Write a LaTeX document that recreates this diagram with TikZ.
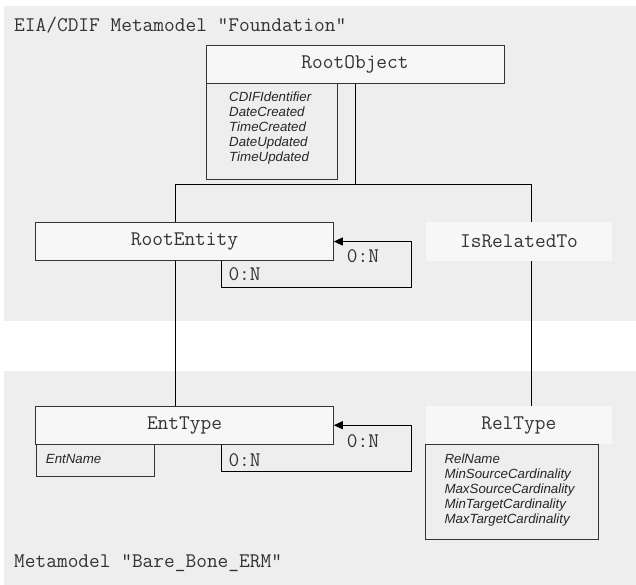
\documentclass[tikz,border=0pt]{standalone}
\usepackage{fontspec}
\newfontfamily\attrfont{Liberation Sans}
\usetikzlibrary{arrows.meta}
\definecolor{panelgray}{HTML}{EEEEEE}
\definecolor{boxfill}{HTML}{F7F7F7}
\definecolor{boxline}{HTML}{333333}
\definecolor{txtgray}{HTML}{333333}
\newcommand{\monosize}{\ttfamily\fontsize{20.8}{22}\selectfont}
\tikzset{
  panel/.style={fill=panelgray},
  classbox/.style={draw=boxline, line width=1pt, fill=boxfill, inner sep=0pt,
    font=\monosize, text=txtgray},
  plainbox/.style={fill=boxfill, inner sep=0pt,
    font=\monosize, text=txtgray},
  attrbox/.style={draw=boxline, line width=1pt, fill=panelgray, inner sep=0pt, anchor=north west},
  attrtext/.style={inner sep=0pt, anchor=north west, align=left,
    font=\attrfont\itshape\fontsize{13.3}{15}\selectfont, text=black!85},
  monotext/.style={inner sep=0pt, font=\monosize, text=txtgray},
  conn/.style={draw=black, line width=0.9pt},
  arr/.style={conn, -{Triangle[length=9pt,width=8pt]}},
}
\begin{document}
\begin{tikzpicture}[x=1pt,y=-1pt]
\useasboundingbox (0,0) rectangle (636,585);
\fill[white] (0,0) rectangle (636,585);
% panels
\fill[panel] (4,6) rectangle (636,320.7);
\fill[panel] (4,371) rectangle (636,585);

% titles
\node[monotext, anchor=base west] (title1) at (14,31.7) {EIA/CDIF Metamodel "Foundation"};
\node[monotext, anchor=base west] (title2) at (14,567) {Metamodel "Bare\_Bone\_ERM"};

% boxes
\node[classbox, minimum width=298pt, minimum height=38pt] (RootObject) at (355,64.3) {RootObject};
\node[classbox, minimum width=297.6pt, minimum height=38.4pt] (RootEntity) at (184.5,241.5) {RootEntity};
\node[plainbox, minimum width=186pt, minimum height=38.7pt] (IsRelatedTo) at (519,241.3) {IsRelatedTo};
\node[classbox, minimum width=297.6pt, minimum height=38.3pt] (EntType) at (184.5,425.2) {EntType};

% connectors
\coordinate (junc) at (355,184.3);
\coordinate (hl) at (175.7,184.3);
\coordinate (hr) at (531.3,184.3);
\coordinate (rtTop) at (531.3,406);
\draw[conn] (RootObject.south) -- (junc);
\draw[conn] (hl) -- (hr);
\draw[conn] (hl) -- (hl |- RootEntity.north);
\draw[conn] (hr) -- (hr |- IsRelatedTo.north);
\draw[conn] (RootEntity.south -| hl) -- (EntType.north -| hl);
\draw[conn] (IsRelatedTo.south -| hr) -- (rtTop);

% self loops
\coordinate (reL) at (221.7,0);
\coordinate (reC) at (411.7,287.3);
\draw[arr] (RootEntity.south -| reL) |- (reC) |- (RootEntity.east);
\coordinate (etC) at (411.7,471.3);
\draw[arr] (EntType.south -| reL) |- (etC) |- (EntType.east);

% cardinality labels
\node[monotext] (reN1) at (363,256) {0:N};
\node[monotext] (reN2) at (244.6,274.3) {0:N};
\node[monotext] (etN1) at (363,440.7) {0:N};
\node[monotext] (etN2) at (244.6,460) {0:N};

% attribute boxes
\node[attrbox, minimum width=130.7pt, minimum height=95.4pt] (roattr) at (206,83.3) {};
\node[attrtext] (roattrtext) at (229,91.3) {CDIFIdentifier\\DateCreated\\TimeCreated\\DateUpdated\\TimeUpdated};
\node[attrbox, minimum width=118pt, minimum height=31.7pt] (etattr) at (35.7,444.3) {};
\node[attrtext] (etattrtext) at (45.7,454.3) {EntName};
\node[attrbox, minimum width=173.3pt, minimum height=94.7pt] (rtattr) at (424.7,444.3) {};
\node[attrtext] (rtattrtext) at (444.3,453.3) {RelName\\MinSourceCardinality\\MaxSourceCardinality\\MinTargetCardinality\\MaxTargetCardinality};
% RelType header drawn over its attribute box top
\node[plainbox, minimum width=185.7pt, minimum height=38.3pt] (RelType) at (518.8,425.2) {RelType};
\end{tikzpicture}
\end{document}
